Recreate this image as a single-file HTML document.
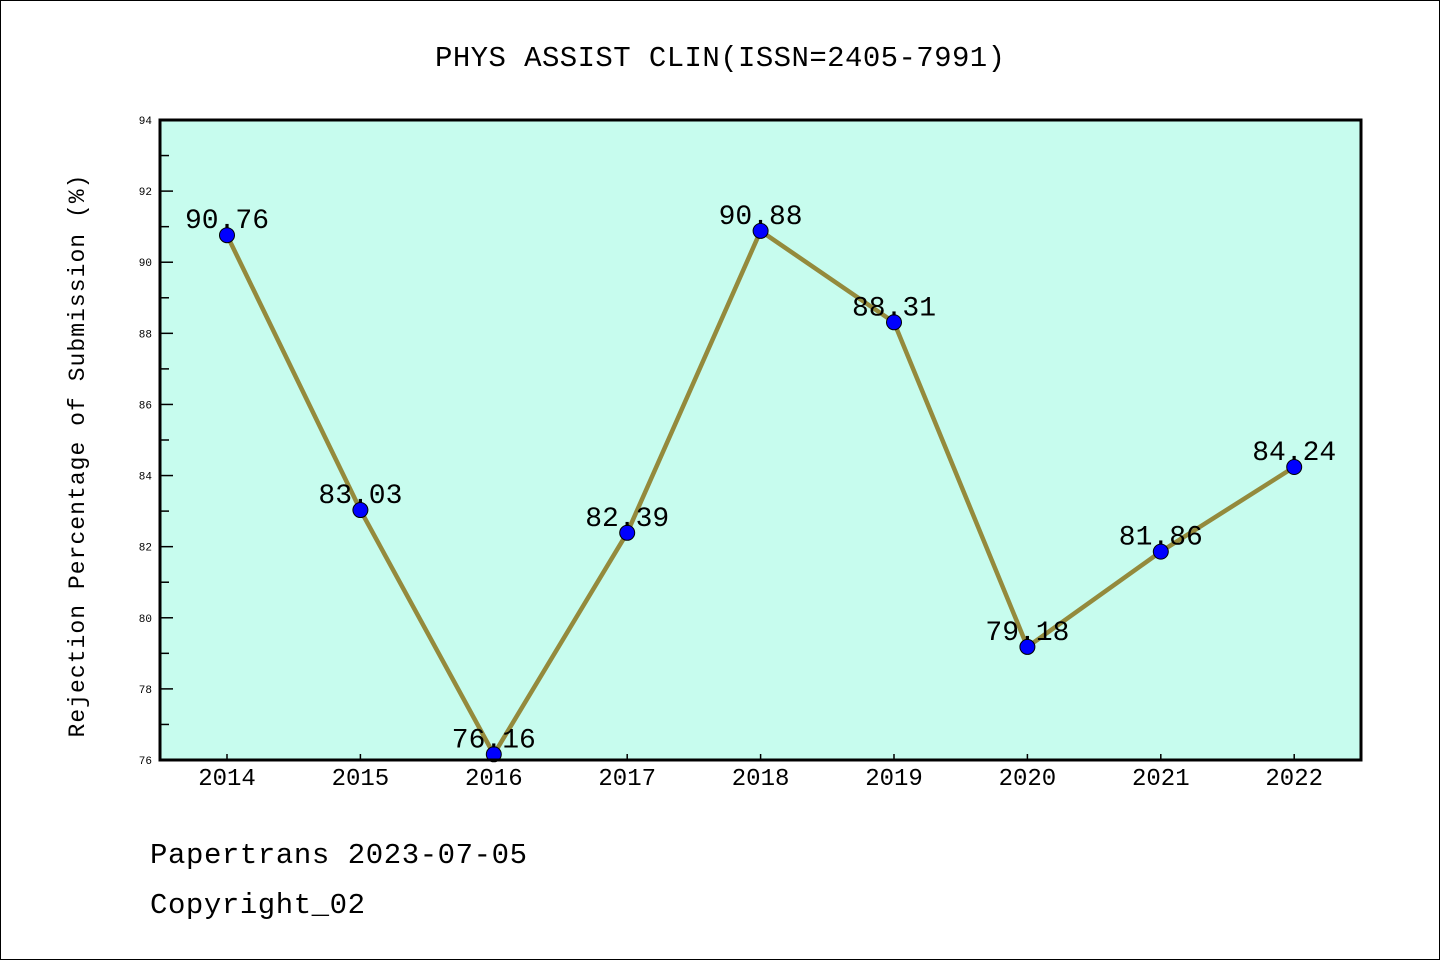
<!DOCTYPE html>
<html><head><meta charset="utf-8"><style>
body{margin:0;background:#fff}
svg text{font-family:"Liberation Mono","DejaVu Sans Mono",monospace;fill:#000}
</style></head><body>
<svg width="1440" height="960" viewBox="0 0 1440 960">
<rect x="0.5" y="0.5" width="1439" height="959" fill="#fff" stroke="#000"/>
<text x="720" y="66" font-size="29" text-anchor="middle" textLength="570">PHYS ASSIST CLIN(ISSN=2405-7991)</text>
<rect x="160" y="120" width="1201" height="640" fill="#c7fcee"/>
<g id="axes"></g>
<g id="series"></g>
<rect x="160" y="120" width="1201" height="640" fill="none" stroke="#000" stroke-width="3"/>
<text transform="translate(84,456) rotate(-90)" font-size="23" text-anchor="middle" textLength="563">Rejection Percentage of Submission (%)</text>
<text x="150" y="863" font-size="29" textLength="377">Papertrans 2023-07-05</text>
<text x="150" y="913" font-size="29" textLength="215">Copyright_02</text>
</svg>
<script>
const categories=["2014","2015","2016","2017","2018","2019","2020","2021","2022"];
const values=[90.76,83.03,76.16,82.39,90.88,88.31,79.18,81.86,84.24];
const yTicks=[76,78,80,82,84,86,88,90,92,94];
const NS="http://www.w3.org/2000/svg";
const L=160,R=1361,T=120,B=760,yMin=76,yMax=94;
const x0=227,dx=133.4;
function xs(i){return x0+i*dx;}
function ys(v){return B-(v-yMin)/(yMax-yMin)*(B-T);}
function mk(tag,attrs,parent){const e=document.createElementNS(NS,tag);for(const k in attrs)e.setAttribute(k,attrs[k]);parent.appendChild(e);return e;}
const ax=document.getElementById('axes'),sr=document.getElementById('series');
yTicks.forEach(v=>{
  const y=ys(v);
  const t=mk('line',{x1:L,x2:L+13,y1:y,y2:y,stroke:'#000','stroke-width':1.5},ax);
  
  
  const lb=mk('text',{x:152,y:y+4,'font-size':11,'text-anchor':'end','font-family':'Liberation Sans, sans-serif'},ax);
  lb.textContent=v;
  
  
  if(v<yMax){const ym=ys(v+1);
    const m=mk('line',{x1:L,x2:L+9,y1:ym,y2:ym,stroke:'#000','stroke-width':1.5},ax);
    
    }
});
categories.forEach((c,i)=>{
  const x=xs(i);
  const t=mk('line',{x1:x,x2:x,y1:B,y2:B-6,stroke:'#000','stroke-width':1.5},ax);
  
  
  const lb=mk('text',{x:x,y:785,'font-size':24,'text-anchor':'middle','font-family':'Liberation Sans, sans-serif'},ax);
  lb.textContent=c;
  
  
});
const pl=mk('polyline',{points:values.map((v,i)=>xs(i)+','+ys(v)).join(' '),fill:'none',stroke:'#948a3c','stroke-width':4.5},sr);


values.forEach((v,i)=>{
  const c=mk('circle',{cx:xs(i),cy:ys(v),r:7.5,fill:'#0000ff',stroke:'#000','stroke-width':1},sr);
  
  
});
values.forEach((v,i)=>{
  const t=mk('text',{x:xs(i),y:ys(v)-7,'font-size':28,'text-anchor':'middle','font-family':'Liberation Sans, sans-serif'},sr);
  t.textContent=v.toFixed(2);
  
  
});
</script>
</body></html>
